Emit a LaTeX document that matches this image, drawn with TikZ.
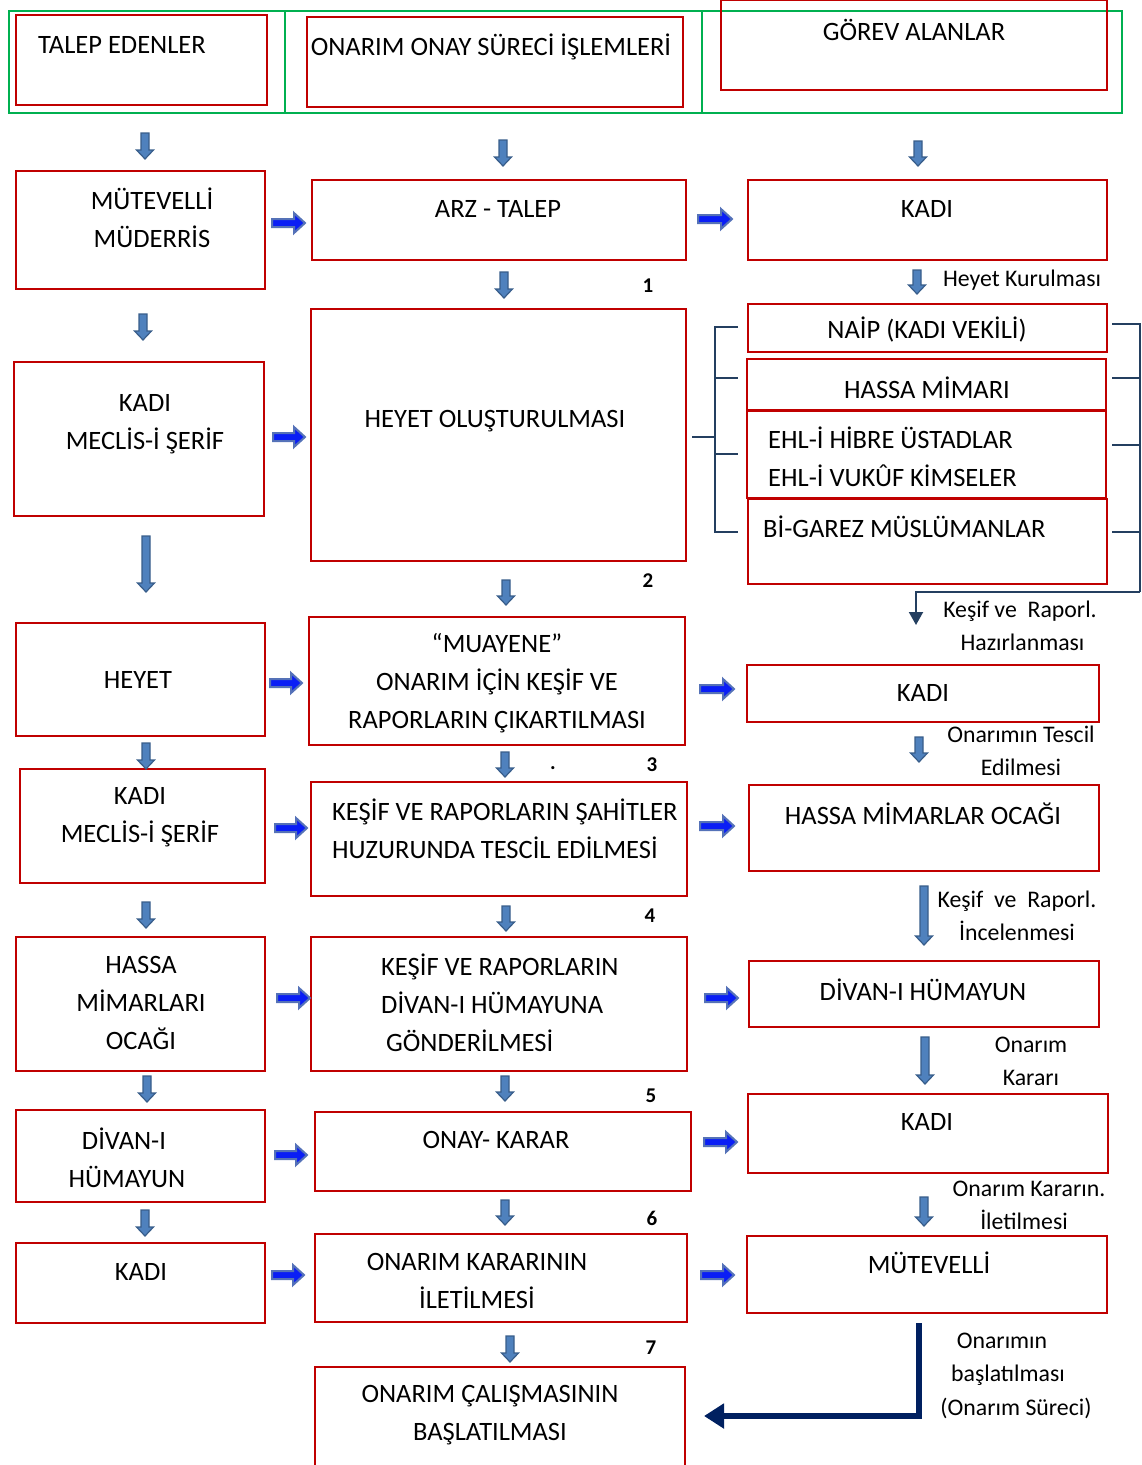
\documentclass[tikz,border=0pt]{standalone}
\usepackage{fontspec}
\setmainfont{Carlito}
\usetikzlibrary{arrows.meta,calc}
\definecolor{bred}{HTML}{C00000}
\definecolor{bgreen}{HTML}{00B050}
\definecolor{navyc}{HTML}{002060}
\definecolor{brk}{HTML}{243F60}
\definecolor{dfill}{HTML}{4F81BD}
\definecolor{dline}{HTML}{385D8A}
\definecolor{rfill}{HTML}{0A1EF5}
\definecolor{rline}{HTML}{5572B8}
\newcommand\mybox[5]{\node[box,anchor=north west,minimum width={#4-#2},minimum height={#5-#3}] (#1) at (#2,#3) {};}
\newcommand\downarr[3]{\draw[darr] ({#1-4},#2) -- ({#1+4},#2) -- ({#1+4},{#3-9}) -- ({#1+8.5},{#3-9}) -- (#1,#3) -- ({#1-8.5},{#3-9}) -- ({#1-4},{#3-9}) -- cycle;}
\newcommand\rightarr[3]{\draw[rarr] (#1,{#3-4}) -- ({#2-11},{#3-4}) -- ({#2-11},{#3-10}) -- (#2,#3) -- ({#2-11},{#3+10}) -- ({#2-11},{#3+4}) -- (#1,{#3+4}) -- cycle;}
\begin{document}
\begin{tikzpicture}[x=1pt,y=-1pt,
  box/.style={draw=bred,line width=2.5pt,inner sep=0pt,outer sep=0pt},
  txt/.style={font=\fontsize{26.5}{38}\selectfont,align=center,inner sep=0pt},
  ltxt/.style={font=\fontsize{26.5}{38}\selectfont,align=left,inner sep=0pt},
  lab/.style={font=\fontsize{23.8}{33}\selectfont,align=center,inner sep=0pt},
  num/.style={font=\fontsize{21}{24}\selectfont\bfseries,inner sep=0pt},
  htxt/.style={font=\fontsize{26.5}{30}\selectfont,inner sep=0pt},
  darr/.style={fill=dfill,draw=dline,line width=1.2pt},
  rarr/.style={fill=rfill,draw=rline,line width=2pt,line join=miter},
  brack/.style={draw=brk,line width=2pt}]
\useasboundingbox (0,0) rectangle (1142,1465);
% header
\node[draw=bgreen,line width=1.5pt,anchor=north west,minimum width=1113,minimum height=102,inner sep=0pt] (hdr) at (8,10) {};
\draw[bgreen,line width=1.2pt] (285,10) -- (285,112) (702,10) -- (702,112);
\mybox{h1}{16}{15}{267}{105}
\mybox{h2}{307}{17}{683}{107}
\mybox{h3}{721}{0}{1107}{90}
\node[htxt] (h1t) at (122,45) {TALEP EDENLER};
\node[htxt] (h2t) at (491,47) {ONARIM ONAY SÜRECİ İŞLEMLERİ};
\node[htxt] (h3t) at (914,30) {GÖREV ALANLAR};
\downarr{145}{133}{159}
\downarr{503}{140}{166}
\downarr{918}{141}{166}
% left column
\mybox{l1}{16}{171}{265}{289}
\mybox{l2}{14}{362}{264}{516}
\mybox{l3}{16}{623}{265}{736}
\mybox{l4}{20}{769}{265}{883}
\mybox{l5}{16}{937}{265}{1071}
\mybox{l6}{16}{1110}{265}{1202}
\mybox{l7}{16}{1243}{265}{1323}
\node[txt] (l1t) at (152,218) {MÜTEVELLİ\\MÜDERRİS};
\node[txt] (l2t) at (145,424) {KADI\\MECLİS-İ ŞERİF};
\node[txt] (l3t) at (138,680) {HEYET};
\node[txt] (l4t) at (140,817) {KADI\\MECLİS-İ ŞERİF};
\node[txt] (l5t) at (141,1003) {HASSA\\MİMARLARI\\OCAĞI};
\node[txt] (l6t) at (124,1158) {DİVAN-I\\\hspace*{6pt}HÜMAYUN};
\node[txt] (l7t) at (141,1272) {KADI};
\downarr{143}{314}{340}
\downarr{146}{536}{592}
\downarr{146}{743}{769}
\downarr{146}{902}{928}
\downarr{147}{1076}{1102}
\downarr{145}{1210}{1236}
% middle column
\mybox{m1}{312}{180}{686}{260}
\mybox{m2}{311}{309}{686}{561}
\mybox{m3}{309}{617}{685}{745}
\mybox{m4}{311}{782}{687}{896}
\mybox{m5}{311}{937}{687}{1071}
\mybox{m6}{315}{1112}{691}{1191}
\mybox{m7}{315}{1234}{687}{1322}
\mybox{m8}{315}{1367}{685}{1468}
\node[txt] (m1t) at (498,209) {ARZ - TALEP};
\node[txt] (m2t) at (495,421) {HEYET OLUŞTURULMASI};
\node[txt] (m3t) at (497,683) {“MUAYENE”\\ONARIM İÇİN KEŞİF VE\\RAPORLARIN ÇIKARTILMASI};
\node[ltxt,anchor=west] (m4t) at (332,829) {KEŞİF VE RAPORLARIN ŞAHİTLER\\HUZURUNDA TESCİL EDİLMESİ};
\node[ltxt,anchor=west] (m5t) at (381,1003) {KEŞİF VE RAPORLARIN\\DİVAN-I HÜMAYUNA\\\hspace*{5pt}GÖNDERİLMESİ};
\node[txt] (m6t) at (496,1140) {ONAY- KARAR};
\node[txt] (m7t) at (477,1281) {ONARIM KARARININ\\İLETİLMESİ};
\node[txt] (m8t) at (490,1415) {ONARIM ÇALIŞMASININ\\BAŞLATILMASI};
\downarr{504}{272}{298}
\downarr{506}{580}{605}
\downarr{505}{752}{777}
\downarr{506}{906}{931}
\downarr{505}{1076}{1101}
\downarr{505}{1200}{1225}
\downarr{510}{1336}{1362}
\node[num] (n1) at (648,286) {1};
\node[num] (n2) at (648,581) {2};
\node[num] (n3) at (652,765) {3};
\node[num] (n3d) at (553,768) {.};
\node[num] (n4) at (650,916) {4};
\node[num] (n5) at (651,1096) {5};
\node[num] (n6) at (652,1218) {6};
\node[num] (n7) at (651,1348) {7};
% horizontal block arrows
\rightarr{272}{305}{223}
\rightarr{273}{305}{437}
\rightarr{270}{302}{683}
\rightarr{275}{307}{828}
\rightarr{277}{310}{998}
\rightarr{275}{307}{1155}
\rightarr{272}{304}{1275}
\rightarr{698}{732}{219}
\rightarr{700}{734}{689}
\rightarr{700}{734}{826}
\rightarr{705}{738}{998}
\rightarr{704}{737}{1142}
\rightarr{701}{734}{1275}
% right column
\mybox{r1}{748}{180}{1107}{260}
\mybox{r2}{748}{304}{1107}{352}
\mybox{r3}{747}{359}{1106}{410}
\mybox{r4}{747}{411}{1106}{498}
\mybox{r5}{748}{499}{1107}{584}
\mybox{r6}{747}{665}{1099}{722}
\mybox{r7}{749}{785}{1099}{871}
\mybox{r8}{749}{961}{1099}{1027}
\mybox{r9}{748}{1094}{1108}{1173}
\mybox{r10}{747}{1236}{1107}{1313}
\node[txt] (r1t) at (927,209) {KADI};
\node[txt] (r2t) at (927,330) {NAİP (KADI VEKİLİ)};
\node[txt] (r3t) at (927,388) {HASSA MİMARI};
\node[ltxt,anchor=west] (r4t) at (768,457) {EHL-İ HİBRE ÜSTADLAR\\EHL-İ VUKÛF KİMSELER};
\node[ltxt,anchor=west] (r5t) at (763,527) {Bİ-GAREZ MÜSLÜMANLAR};
\node[txt] (r6t) at (923,693) {KADI};
\node[txt] (r7t) at (923,814) {HASSA MİMARLAR OCAĞI};
\node[txt] (r8t) at (923,990) {DİVAN-I HÜMAYUN};
\node[txt] (r9t) at (927,1122) {KADI};
\node[txt] (r10t) at (929,1263) {MÜTEVELLİ};
% brackets
\draw[brack] (738,327) -- (715,327) -- (715,532) -- (738,532);
\draw[brack] (715,378) -- (738,378) (715,454) -- (738,454);
\draw[brack] (692,437) -- (715,437);
\draw[brack] (1112,324) -- (1140,324) -- (1140,592);
\draw[brack] (1112,378) -- (1140,378) (1112,445) -- (1140,445) (1112,532) -- (1140,532);
\coordinate (bk) at (1140,592);
\coordinate (bkend) at (916,625);
\draw[brack,-{Triangle[length=13pt,width=14pt]}] (bk) -- (bkend |- bk) -- (bkend);
% right side arrows and labels
\downarr{917}{270}{294}
\node[lab] (a1) at (1022,280) {Heyet Kurulması};
\node[lab] (a2) at (1020,626) {Keşif ve\ \ Raporl.\\\hspace*{5pt}Hazırlanması};
\downarr{919}{737}{762}
\node[lab] (a3) at (1021,751) {Onarımın Tescil\\Edilmesi};
\downarr{924}{886}{945}
\node[lab] (a4) at (1017,916) {Keşif\ \ ve\ \ Raporl.\\İncelenmesi};
\downarr{925}{1037}{1084}
\node[lab] (a5) at (1031,1061) {Onarım\\Kararı};
\downarr{924}{1197}{1226}
\node[lab] (a6) at (1029,1205) {Onarım Kararın.\\\hspace*{-10pt}İletilmesi};
\node[lab] (a7a) at (1002,1341) {Onarımın};
\node[lab] (a7b) at (1008,1375) {başlatılması};
\node[lab] (a7c) at (1016,1408) {(Onarım Süreci)};
\coordinate (fs) at (919,1323);
\coordinate (fe) at (704,1416);
\draw[navyc,line width=6pt,-{Triangle[length=20pt,width=24pt]}] (fs) -- (fs |- fe) -- (fe);
\end{tikzpicture}
\end{document}
